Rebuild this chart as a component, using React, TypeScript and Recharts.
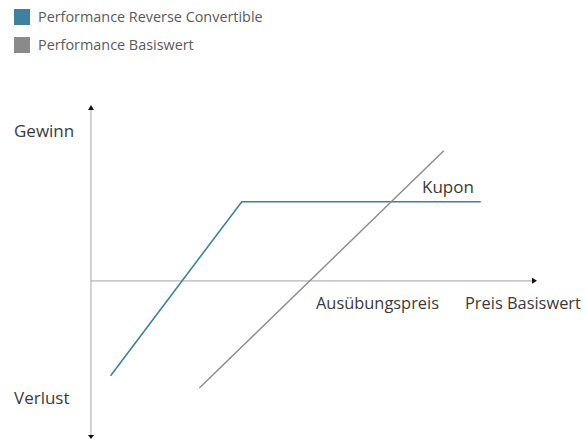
import React from 'react';
import { LineChart, Line, XAxis, YAxis, ReferenceLine, Legend } from 'recharts';

// Series values (x = Preis Basiswert, y = Performance)
const blueX = [4.4, 33.8, 87.4];
const blueY = [-54, 45, 45];
const grayX = [24.3, 79.1];
const grayY = [-61, 74];

const seriesNames = ['Performance Reverse Convertible', 'Performance Basiswert'];
const seriesColors = ['#3f809f', '#8a8a8a'];

const axisLabels = {
  gain: 'Gewinn',
  loss: 'Verlust',
  coupon: 'Kupon',
  strike: 'Ausübungspreis',
  price: 'Preis Basiswert',
};

const blueData = blueX.map((x, i) => ({ x, y: blueY[i] }));
const grayData = grayX.map((x, i) => ({ x, y: grayY[i] }));

const FONT = '"Open Sans", sans-serif';
const AXIS_COLOR = '#b5b5b5';
const TEXT_COLOR = '#3a3a3a';

const HArrow = (props: any) => {
  const { x1, y1, x2, y2 } = props;
  const left = Math.min(x1, x2);
  const right = Math.max(x1, x2);
  return (
    <g>
      <line x1={left} y1={y1} x2={right - 2} y2={y2} stroke={AXIS_COLOR} strokeWidth={1.2} />
      <polygon points={`${right},${y1} ${right - 5},${y1 - 3} ${right - 5},${y1 + 3}`} fill="#111" />
    </g>
  );
};

const VArrow = (props: any) => {
  const { x1, y1, y2 } = props;
  const top = Math.min(y1, y2);
  const bottom = Math.max(y1, y2);
  return (
    <g>
      <line x1={x1} y1={top + 2} x2={x1} y2={bottom - 2} stroke={AXIS_COLOR} strokeWidth={1.2} />
      <polygon points={`${x1},${top} ${x1 - 3},${top + 5} ${x1 + 3},${top + 5}`} fill="#111" />
      <polygon points={`${x1},${bottom} ${x1 - 3},${bottom - 4} ${x1 + 3},${bottom - 4}`} fill="#111" />
    </g>
  );
};

const LegendContent = () => (
  <div style={{ height: 60, position: 'relative', fontFamily: FONT }}>
    {seriesNames.map((name, i) => (
      <div
        key={name}
        style={{
          position: 'absolute',
          left: 14,
          top: 9 + i * 28,
          display: 'flex',
          alignItems: 'center',
          height: 16,
        }}
      >
        <span style={{ width: 16, height: 16, background: seriesColors[i], display: 'inline-block' }} />
        <span style={{ marginLeft: 8, fontSize: 14.4, color: '#5a5a5a', whiteSpace: 'nowrap', lineHeight: '16px' }}>
          {name}
        </span>
      </div>
    ))}
  </div>
);

export default function App() {
  return (
    <div style={{ position: 'absolute', left: 0, top: 0, width: 585, height: 441, background: '#fff' }}>
      <LineChart width={585} height={441} margin={{ top: 45, right: 48, bottom: 2, left: 91 }}>
        <Legend
          verticalAlign="top"
          align="left"
          layout="horizontal"
          content={LegendContent}
          wrapperStyle={{ top: 0, left: 0, width: 320 }}
        />
        <XAxis type="number" dataKey="x" domain={[0, 100]} hide allowDataOverflow />
        <YAxis type="number" dataKey="y" domain={[-90, 100]} hide allowDataOverflow />
        <ReferenceLine y={0} shape={HArrow} ifOverflow="visible" />
        <ReferenceLine x={0} shape={VArrow} ifOverflow="visible" />
        <Line
          data={blueData}
          dataKey="y"
          type="linear"
          stroke={seriesColors[0]}
          strokeWidth={1.6}
          dot={false}
          isAnimationActive={false}
          legendType="square"
          name={seriesNames[0]}
        />
        <Line
          data={grayData}
          dataKey="y"
          type="linear"
          stroke={seriesColors[1]}
          strokeWidth={1.4}
          dot={false}
          isAnimationActive={false}
          legendType="square"
          name={seriesNames[1]}
        />
        <g fontFamily={FONT} fontSize={16.4} fill={TEXT_COLOR}>
          <text x={14} y={137} fontSize={17}>{axisLabels.gain}</text>
          <text x={14} y={404} fontSize={17}>{axisLabels.loss}</text>
          <text x={422} y={193} fontSize={17}>{axisLabels.coupon}</text>
          <text x={316} y={309}>{axisLabels.strike}</text>
          <text x={465} y={309}>{axisLabels.price}</text>
        </g>
      </LineChart>
    </div>
  );
}
